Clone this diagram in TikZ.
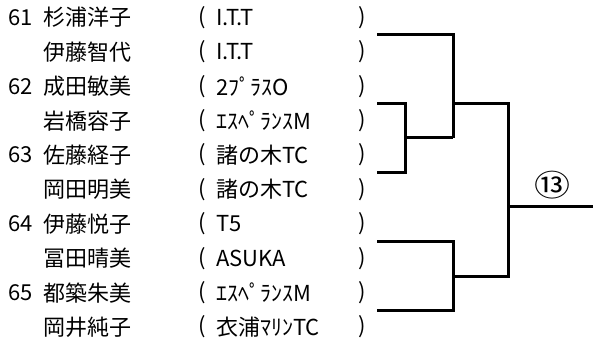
\documentclass[tikz,border=0pt]{standalone}
\usepackage{fontspec}
\newfontfamily\jpfont{Noto Sans CJK JP}
\usetikzlibrary{positioning}
\tikzset{%
  entry/.style = {anchor=west, inner sep=0pt, font=\jpfont\fontsize{22}{22}\selectfont},%
  seed/.style  = {entry},%
  paren/.style = {entry},%
  bline/.style = {line width=3pt, line join=miter}%
}
\begin{document}
\begin{tikzpicture}[x=1pt, y=-1pt]
  \useasboundingbox (0,0) rectangle (593,343);
  % seeds
  \node [seed] (s61) at (8,17.5)  {61};
  \node [seed] (s62) at (8,86.3)  {62};
  \node [seed] (s63) at (8,155.1) {63};
  \node [seed] (s64) at (8,223.9) {64};
  \node [seed] (s65) at (8,292.7) {65};
  % players
  \node [entry] (p1)  at (43,17.5)  {杉浦洋子};
  \node [entry] (p2)  at (43,51.9)  {伊藤智代};
  \node [entry] (p3)  at (43,86.3)  {成田敏美};
  \node [entry] (p4)  at (43,120.7) {岩橋容子};
  \node [entry] (p5)  at (43,155.1) {佐藤経子};
  \node [entry] (p6)  at (43,189.5) {岡田明美};
  \node [entry] (p7)  at (43,223.9) {伊藤悦子};
  \node [entry] (p8)  at (43,258.3) {冨田晴美};
  \node [entry] (p9)  at (43,292.7) {都築朱美};
  \node [entry] (p10) at (43,327.1) {岡井純子};
  % clubs
  \node [entry] (c1)  at (216,17.5)  {I.T.T};
  \node [entry] (c2)  at (216,51.9)  {I.T.T};
  \node [entry] (c3)  at (216,86.3)  {2ﾌﾟﾗｽO};
  \node [entry] (c4)  at (216,120.7) {ｴｽﾍﾟﾗﾝｽM};
  \node [entry] (c5)  at (216,155.1) {諸の木TC};
  \node [entry] (c6)  at (216,189.5) {諸の木TC};
  \node [entry] (c7)  at (216,223.9) {T5};
  \node [entry] (c8)  at (216,258.3) {ASUKA};
  \node [entry] (c9)  at (216,292.7) {ｴｽﾍﾟﾗﾝｽM};
  \node [entry] (c10) at (216,327.1) {衣浦ﾏﾘﾝTC};
  % brackets round the clubs
  \foreach \r/\y in {1/17.5,2/51.9,3/86.3,4/120.7,5/155.1,6/189.5,7/223.9,8/258.3,9/292.7,10/327.1}{
    \node [paren] (o\r) at (198,\y) {(};
    \node [paren] (e\r) at (358,\y) {)};
  }
  % draw
  \coordinate (m1) at (377,34);
  \coordinate (m2) at (377,103);
  \coordinate (m3) at (377,172);
  \coordinate (m4) at (377,241);
  \coordinate (m5) at (377,310);
  \coordinate (j23) at (405,137.5);
  \coordinate (j123) at (453,137.5);
  \coordinate (up) at (453,103);
  \coordinate (j45) at (453,276);
  \coordinate (upr) at (508,103);
  \coordinate (lowr) at (508,276);
  \coordinate (fin) at (508,206);
  \coordinate (win) at (593,206);
  \draw [bline] (m2) -| (j23) |- (m3);
  \draw [bline] (j23) -- (j123);
  \draw [bline] (m1) -| (j123);
  \draw [bline] (m4) -| (j45) |- (m5);
  \draw [bline] (up) -- (upr) -- (lowr) -- (j45);
  \draw [bline] (fin) -- (win);
  \node [entry, anchor=center, font=\jpfont\fontsize{30}{30}\selectfont] (no13) at (552,185) {\scalebox{1.2}[1]{⑬}};
\end{tikzpicture}
\end{document}
